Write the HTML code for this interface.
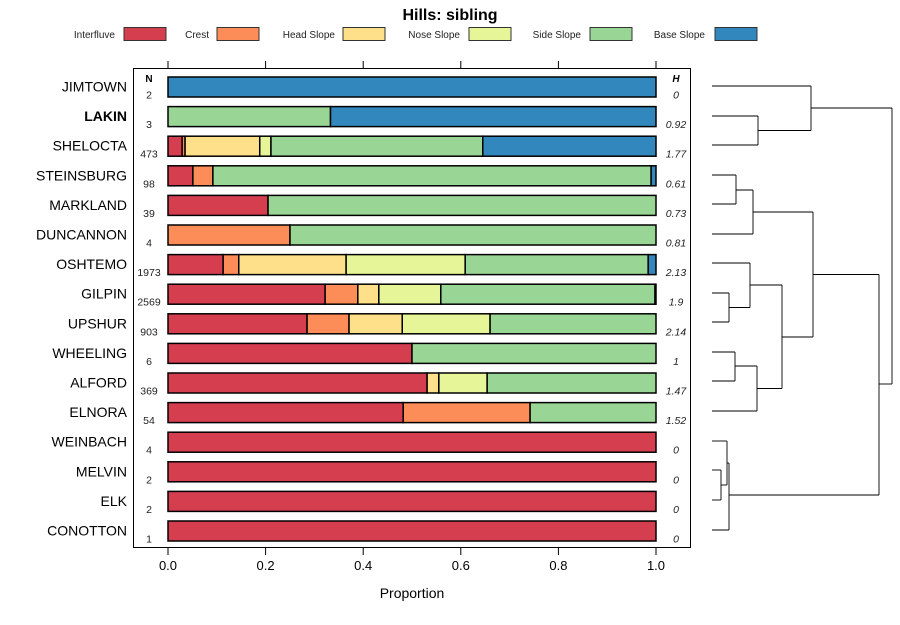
<!DOCTYPE html>
<html><head><meta charset="utf-8"><style>
body{margin:0;background:#fff;font-family:"Liberation Sans",sans-serif}
svg text{font-family:"Liberation Sans",sans-serif}
</style></head><body>
<svg id="c" width="900" height="620" xmlns="http://www.w3.org/2000/svg"></svg>
<script>
const categories=["Interfluve","Crest","Head Slope","Nose Slope","Side Slope","Base Slope"];
const colors=["#D53E4F","#FC8D59","#FEE08B","#E6F598","#99D594","#3288BD"];
const soils=["JIMTOWN","LAKIN","SHELOCTA","STEINSBURG","MARKLAND","DUNCANNON","OSHTEMO","GILPIN","UPSHUR","WHEELING","ALFORD","ELNORA","WEINBACH","MELVIN","ELK","CONOTTON"];
const nVals=[2,3,473,98,39,4,1973,2569,903,6,369,54,4,2,2,1];
const hVals=["0","0.92","1.77","0.61","0.73","0.81","2.13","1.9","2.14","1","1.47","1.52","0","0","0","0"];
const interfluve=[0,0,0.029,0.051,0.205,0,0.113,0.322,0.285,0.5,0.531,0.482,1,1,1,1];
const crest=[0,0,0.006,0.041,0,0.25,0.032,0.067,0.086,0,0,0.26,0,0,0,0];
const headSlope=[0,0,0.153,0,0,0,0.22,0.043,0.109,0,0.024,0,0,0,0,0];
const noseSlope=[0,0,0.023,0,0,0,0.244,0.127,0.18,0,0.099,0,0,0,0,0];
const sideSlope=[0,0.333,0.434,0.898,0.795,0.75,0.375,0.439,0.34,0.5,0.346,0.258,0,0,0,0];
const baseSlope=[1,0.667,0.355,0.01,0,0,0.016,0.002,0,0,0,0,0,0,0,0];
const xTicks=[0,0.2,0.4,0.6,0.8,1.0];
const series=[interfluve,crest,headSlope,noseSlope,sideSlope,baseSlope];
const svg=document.getElementById('c');
const NS="http://www.w3.org/2000/svg";
function mk(t,a,txt){const e=document.createElementNS(NS,t);for(const k in a)e.setAttribute(k,a[k]);if(txt!==undefined)e.textContent=txt;svg.appendChild(e);return e;}
const x=v=>168+v*488;
const y=i=>86.5+i*29.6;
// title
let e=mk('text',{x:450,y:20,'text-anchor':'middle','font-size':16,'font-weight':'bold'},"Hills: sibling");

// legend
const lgBox=[124,217,343,469,590,715], lgEnd=[115,209,335,460,581,705];
categories.forEach((c,k)=>{
  let t=mk('text',{x:lgEnd[k],y:38,'text-anchor':'end','font-size':10,fill:'#222'},c);
  
  let r=mk('rect',{x:lgBox[k],y:27.5,width:42,height:13,fill:colors[k],stroke:'#333','stroke-width':1});
  
});
// plot box
e=mk('rect',{x:133.5,y:68.5,width:557,height:479,fill:'none',stroke:'#000','stroke-width':1});

xTicks.forEach(v=>{
  mk('line',{x1:x(v),x2:x(v),y1:61,y2:68,stroke:'#000'});
  mk('line',{x1:x(v),x2:x(v),y1:548,y2:555,stroke:'#000'});
  let t=mk('text',{x:x(v),y:570,'text-anchor':'middle','font-size':13},v.toFixed(1));
  
});
e=mk('text',{x:412,y:598,'text-anchor':'middle','font-size':14},"Proportion");

e=mk('text',{x:149,y:82,'text-anchor':'middle','font-size':10,'font-weight':'bold'},"N");

e=mk('text',{x:676,y:82,'text-anchor':'middle','font-size':10,'font-weight':'bold','font-style':'italic'},"H");

soils.forEach((s,i)=>{
  let t=mk('text',{x:127,y:y(i)+5,'text-anchor':'end','font-size':14,'font-weight':s==="LAKIN"?'bold':'normal'},s);
  
  t=mk('text',{x:149,y:y(i)+12,'text-anchor':'middle','font-size':10.5,fill:'#222'},nVals[i]);
  
  t=mk('text',{x:676,y:y(i)+12,'text-anchor':'middle','font-size':10.5,'font-style':'italic',fill:'#222'},hVals[i]);
  
  let cum=0;
  series.forEach((ser,k)=>{
    const v=ser[i]; if(v<=0)return;
    const r=mk('rect',{x:x(cum),y:y(i)-9.5,width:x(cum+v)-x(cum),height:20,fill:colors[k],stroke:'#000','stroke-width':1.5});
    
    cum+=v;
  });
});
// dendrogram
const segs=[
 [712,116,758,116],[712,145,758,145],[758,116,758,145],
 [712,86,811,86],[758,130.5,811,130.5],[811,86,811,130.5],
 [712,175,736,175],[712,204,736,204],[736,175,736,204],
 [736,190,753,190],[712,234,753,234],[753,190,753,234],
 [712,293,729,293],[712,322,729,322],[729,293,729,322],
 [712,263,750,263],[729,307.5,750,307.5],[750,263,750,307.5],
 [712,352,735,352],[712,381,735,381],[735,352,735,381],
 [735,366,757,366],[712,411,757,411],[757,366,757,411],
 [750,285,782,285],[757,388.5,782,388.5],[782,285,782,388.5],
 [753,212,813,212],[782,337,813,337],[813,212,813,337],
 [712,470,721,470],[712,500,721,500],[721,470,721,500],
 [712,441,727,441],[721,485,727,485],[727,441,727,485],
 [727,463,729,463],[712,530,729,530],[729,463,729,530],
 [729,495,879,495],[813,274.5,879,274.5],[879,274.5,879,495],
 [879,384,892,384],[811,108,892,108],[892,108,892,384]];
const g=document.createElementNS(NS,'g');


svg.appendChild(g);
segs.forEach(s=>{const l=document.createElementNS(NS,'line');
l.setAttribute('x1',s[0]);l.setAttribute('y1',s[1]);l.setAttribute('x2',s[2]);l.setAttribute('y2',s[3]);
l.setAttribute('stroke','#000');l.setAttribute('stroke-width','0.9');g.appendChild(l);});
</script>
</body></html>
